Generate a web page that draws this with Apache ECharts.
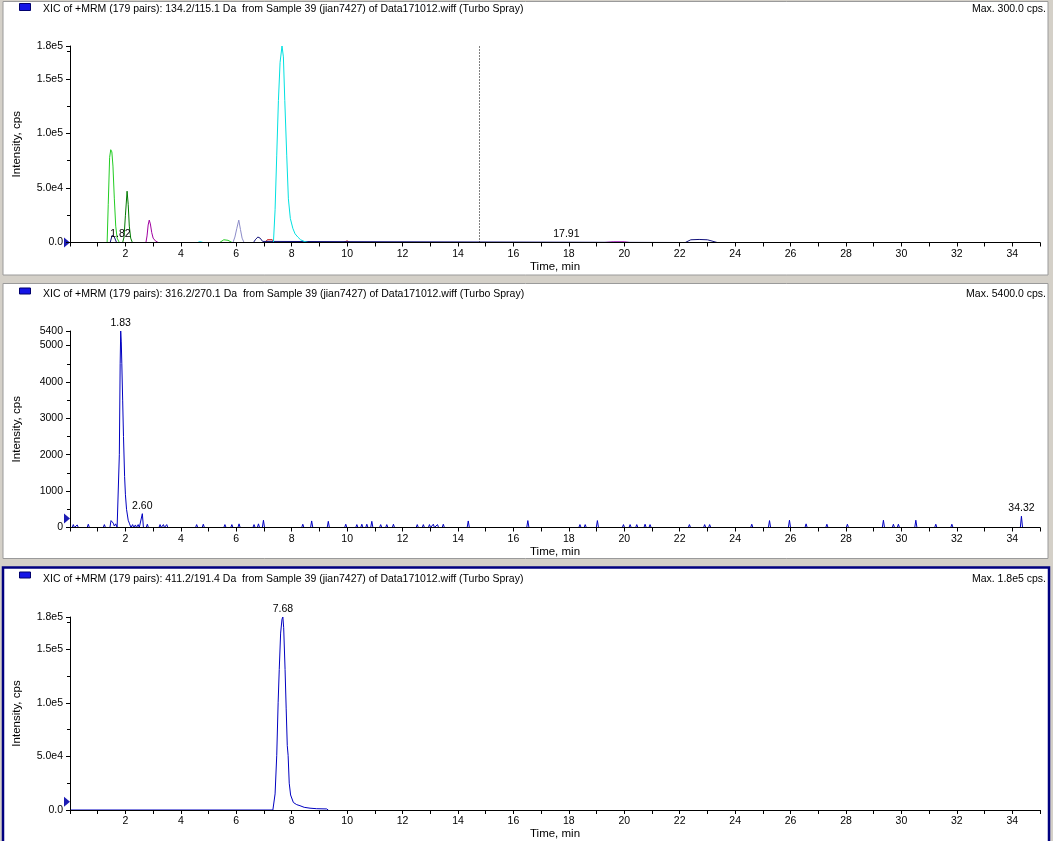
<!DOCTYPE html>
<html>
<head>
<meta charset="utf-8">
<script src="https://cdn.jsdelivr.net/npm/echarts@6/dist/echarts.min.js"></script>
<style>
html,body{margin:0;padding:0;background:#d4d0c8;}
#c{width:1053px;height:841px;}
</style>
</head>
<body>
<div id="c"></div>
<script>
// ---------- data ----------
const panelTitles = [
  'XIC of +MRM (179 pairs): 134.2/115.1 Da  from Sample 39 (jian7427) of Data171012.wiff (Turbo Spray)',
  'XIC of +MRM (179 pairs): 316.2/270.1 Da  from Sample 39 (jian7427) of Data171012.wiff (Turbo Spray)',
  'XIC of +MRM (179 pairs): 411.2/191.4 Da  from Sample 39 (jian7427) of Data171012.wiff (Turbo Spray)'
];
const maxTexts = ['Max. 300.0 cps.', 'Max. 5400.0 cps.', 'Max. 1.8e5 cps.'];
const timeRange = [0, 35];
const yMax = [180000, 5400, 180000];
const yStep = [50000, 1000, 50000];
const markerLevels = [0, 245, 7600];
const cursorTime = 14.75;

// panel 1 overlay traces (time, cps)
const p1Green = [[0,0],[1.34,0],[1.38,35000],[1.43,78000],[1.47,85000],[1.51,83000],[1.55,70000],[1.60,40000],[1.65,15000],[1.70,4000],[1.78,0],[5.40,0],[5.55,2500],[5.70,2000],[5.85,0],[35,0]];
const p1DarkGreen = [[0,0],[1.90,0],[1.95,5000],[2.00,25000],[2.06,47000],[2.10,35000],[2.14,15000],[2.19,4000],[2.25,0],[35,0]];
const p1Purple = [[0,0],[2.74,0],[2.78,6000],[2.82,16000],[2.86,20500],[2.90,17000],[2.95,9000],[3.00,4000],[3.08,1500],[3.18,0],[35,0]];
const p1Slate = [[0,0],[5.88,0],[5.95,5000],[6.02,13000],[6.09,20500],[6.15,12000],[6.21,4000],[6.28,0],[35,0]];
const p1Navy = [[0,0],[1.45,0],[1.52,6500],[1.60,5000],[1.68,0],[4.05,0],[4.10,1200],[4.16,0],[6.62,0],[6.70,3000],[6.78,5000],[6.86,4000],[6.95,1000],[7.00,0],[22.20,0],[22.40,2500],[22.70,2800],[23.00,2500],[23.35,0],[35,0]];
const p1Cyan = [[0,0],[4.6,0],[4.7,800],[4.8,0],[7.34,0],[7.40,30000],[7.46,80000],[7.52,130000],[7.58,165000],[7.65,180000],[7.70,170000],[7.75,130000],[7.82,80000],[7.88,40000],[7.95,22000],[8.04,13000],[8.12,8000],[8.22,5000],[8.32,2500],[8.45,1000],[8.60,0],[35,0]];
const p1Red = [[0,0],[7.05,0],[7.12,2500],[7.30,2500],[7.38,0],[9.85,0],[10.00,1500],[10.10,0],[35,0]];
const p1Magenta = [[0,0],[19.30,0],[19.60,800],[20.00,800],[20.20,0],[35,0]];
const p1Blue = [[0,0],[1.75,0],[1.82,300],[1.90,0],[17.85,0],[17.91,250],[17.97,0],[35,0]];
const p1PeakLabels = [[1.82, 300, '1.82'], [17.91, 250, '17.91']];

// panel 2 trace
const p2Trace = [
  [0,0],[0.08,0],[0.12,80],[0.16,0],[0.22,0],[0.26,70],[0.30,0],[0.62,0],[0.66,90],[0.70,0],
  [1.20,0],[1.24,80],[1.28,0],[1.44,0],[1.48,190],[1.52,190],[1.56,120],[1.60,40],[1.65,100],[1.70,0],
  [1.76,0],[1.78,2000],[1.81,4500],[1.83,5400],[1.85,5100],[1.87,4500],[1.90,3500],[1.93,2500],[1.97,1400],[2.00,900],[2.04,500],[2.10,200],[2.15,100],[2.20,0],
  [2.26,80],[2.30,0],[2.36,70],[2.40,0],[2.46,80],[2.50,0],[2.57,0],[2.61,380],[2.65,0],[2.75,0],[2.79,90],[2.83,0],
  [3.21,0],[3.25,80],[3.29,0],[3.33,0],[3.37,80],[3.41,0],[3.45,0],[3.49,80],[3.53,0],
  [4.53,0],[4.57,80],[4.61,0],[4.77,0],[4.81,90],[4.85,0],
  [5.55,0],[5.59,80],[5.63,0],[5.80,0],[5.84,80],[5.88,0],[6.06,0],[6.10,100],[6.14,0],
  [6.60,0],[6.64,80],[6.68,0],[6.76,0],[6.80,100],[6.84,0],[6.94,0],[6.98,200],[7.02,0],
  [8.36,0],[8.40,90],[8.44,0],[8.68,0],[8.72,180],[8.76,0],[9.28,0],[9.32,170],[9.36,0],[9.91,0],[9.95,90],[9.99,0],
  [10.31,0],[10.35,80],[10.39,0],[10.49,0],[10.53,90],[10.57,0],[10.67,0],[10.71,90],[10.75,0],[10.85,0],[10.89,170],[10.93,0],
  [11.17,0],[11.21,80],[11.25,0],[11.39,0],[11.43,80],[11.47,0],[11.63,0],[11.67,90],[11.71,0],
  [12.49,0],[12.53,80],[12.57,0],[12.71,0],[12.75,80],[12.79,0],[12.93,0],[12.97,80],[13.01,0],[13.07,0],[13.11,90],[13.15,0],[13.22,0],[13.26,80],[13.30,0],[13.43,0],[13.47,90],[13.51,0],
  [14.33,0],[14.37,180],[14.41,0],[16.48,0],[16.52,190],[16.56,0],
  [18.36,0],[18.40,80],[18.44,0],[18.55,0],[18.59,80],[18.63,0],[18.99,0],[19.03,190],[19.07,0],
  [19.93,0],[19.97,80],[20.01,0],[20.17,0],[20.21,80],[20.25,0],[20.41,0],[20.45,80],[20.49,0],[20.71,0],[20.75,90],[20.79,0],[20.89,0],[20.93,80],[20.97,0],
  [22.31,0],[22.35,80],[22.39,0],[22.86,0],[22.90,80],[22.94,0],[23.04,0],[23.08,80],[23.12,0],
  [24.56,0],[24.60,90],[24.64,0],[25.20,0],[25.24,190],[25.28,0],[25.92,0],[25.96,200],[26.00,0],
  [26.52,0],[26.56,100],[26.60,0],[27.27,0],[27.31,90],[27.35,0],[28.01,0],[28.05,90],[28.09,0],
  [29.31,0],[29.35,200],[29.39,0],[29.67,0],[29.71,90],[29.75,0],[29.85,0],[29.89,90],[29.93,0],
  [30.48,0],[30.52,200],[30.56,0],[31.20,0],[31.24,90],[31.28,0],[31.78,0],[31.82,90],[31.86,0],
  [34.29,0],[34.33,310],[34.37,0],[35,0]
];
const p2PeakLabels = [[1.83, 5400, '1.83'], [2.61, 380, '2.60'], [34.33, 310, '34.32']];

// panel 3 trace
const p3Trace = [[0,0],[7.32,0],[7.40,15000],[7.46,51000],[7.51,100000],[7.55,131000],[7.60,165000],[7.65,178000],[7.68,180000],[7.71,170000],[7.76,131000],[7.80,95000],[7.84,60000],[7.87,51000],[7.91,25000],[7.96,14000],[8.06,7000],[8.18,5000],[8.30,4000],[8.45,2500],[8.66,1700],[8.90,1200],[9.26,1000],[9.32,0]];
const p3PeakLabels = [[7.68, 180000, '7.68']];

// ---------- layout / styles ----------
const FONT = 'Liberation Sans, Arial, sans-serif';
const grids = [
  {left:70, top:46, width:970, height:196.5},
  {left:70, top:331, width:970, height:196.5},
  {left:70, top:617, width:970, height:195.5}
];
const titleTops = [4, 289, 574];

function yFmt(panel){
  return function(v){
    if (panel === 1) return String(v);
    if (v === 0) return '0.0';
    return v.toExponential(1).replace('e+', 'e');
  };
}

const xAxes = grids.map((g,i)=>({
  type:'value', gridIndex:i, min:timeRange[0], max:timeRange[1], interval:2, z:5,
  name:'Time, min', nameLocation:'middle', nameGap:18,
  nameTextStyle:{fontFamily:FONT, fontSize:11.5, color:'#000'},
  axisLine:{onZero:false, lineStyle:{color:'#000', width:1}},
  axisTick:{show:true, length:4, lineStyle:{color:'#000'}},
  minorTick:{show:true, splitNumber:2, length:4, lineStyle:{color:'#000'}},
  axisLabel:{showMinLabel:false, showMaxLabel:false, margin:6, fontFamily:FONT, fontSize:10.5, color:'#000'},
  splitLine:{show:false}
}));
const yAxes = grids.map((g,i)=>({
  type:'value', gridIndex:i, min:0, max:yMax[i], interval:yStep[i], z:5,
  name:'Intensity, cps', nameLocation:'middle', nameGap:47,
  nameTextStyle:{fontFamily:FONT, fontSize:11.5, color:'#000'},
  axisLine:{show:true, lineStyle:{color:'#000', width:1}},
  axisTick:{show:true, length:4, lineStyle:{color:'#000'}},
  minorTick:{show:true, splitNumber:2, length:3, lineStyle:{color:'#000'}},
  axisLabel:{margin:7, fontFamily:FONT, fontSize:10.5, color:'#000', formatter:yFmt(i)},
  splitLine:{show:false}
}));

const TRI = 'path://M0,0 L10,5 L0,10 Z';
function markerMP(panel){
  return {data:[{coord:[0, markerLevels[panel]], symbol:TRI, symbolSize:[6,10], symbolOffset:[-3,0],
    itemStyle:{color:'#1c1cb4'}, label:{show:false}}]};
}
function peakMP(list, extra){
  const d = list.map(p=>({coord:[p[0],p[1]], name:p[2], symbol:'circle', symbolSize:1,
    itemStyle:{color:'rgba(0,0,0,0)'},
    label:{show:true, position:'top', distance:2, formatter:p[2], color:'#000', fontFamily:FONT, fontSize:10.5}}));
  return {data: d.concat(extra||[])};
}
function line(data, color, gi, more){
  return Object.assign({type:'line', data:data, xAxisIndex:gi, yAxisIndex:gi, showSymbol:false, symbol:'none',
    lineStyle:{color:color, width:1}, itemStyle:{color:color}, animation:false, silent:true, clip:true}, more||{});
}

const series = [
  line(p1Red, '#c00000', 0),
  line(p1Magenta, '#d040d0', 0),
  line(p1Slate, '#8c8cc8', 0),
  line(p1Purple, '#a000a0', 0),
  line(p1DarkGreen, '#007a00', 0),
  line(p1Green, '#22cc22', 0),
  line(p1Navy, '#10107a', 0),
  line(p1Cyan, '#00e0e0', 0),
  line(p1Blue, '#0000ff', 0, {
    markPoint: peakMP(p1PeakLabels, markerMP(0).data),
    markLine:{silent:true, symbol:['none','none'], label:{show:false},
      lineStyle:{color:'#000', type:[1,2], width:1}, data:[{xAxis:cursorTime}]}
  }),
  line(p2Trace, '#0000c0', 1, {markPoint: peakMP(p2PeakLabels, markerMP(1).data)}),
  line(p3Trace, '#0000c0', 2, {markPoint: peakMP(p3PeakLabels, markerMP(2).data)})
];

const titles = [];
panelTitles.forEach((t,i)=>{
  titles.push({text:t, left:43, top:titleTops[i], padding:0,
    textStyle:{fontFamily:FONT, fontSize:10.5, fontWeight:'normal', color:'#000'}});
  titles.push({text:maxTexts[i], right:7, top:titleTops[i], padding:0,
    textStyle:{fontFamily:FONT, fontSize:10.5, fontWeight:'normal', color:'#000'}});
});

const graphics = [
  {type:'rect', z:-10, shape:{x:3, y:1.5, width:1045, height:273.5}, style:{fill:'#fff', stroke:'#9a9a9a', lineWidth:1}},
  {type:'rect', z:-10, shape:{x:3, y:283.5, width:1045, height:275}, style:{fill:'#fff', stroke:'#9a9a9a', lineWidth:1}},
  {type:'rect', z:-10, shape:{x:3, y:567.5, width:1046, height:280}, style:{fill:'#fff', stroke:'#000080', lineWidth:2.5}},
  {type:'rect', z:10, shape:{x:19.5, y:3.5, width:11, height:7}, style:{fill:'#1414e6', stroke:'#00006e', lineWidth:1}},
  {type:'rect', z:10, shape:{x:19.5, y:288, width:11, height:6}, style:{fill:'#1414e6', stroke:'#00006e', lineWidth:1}},
  {type:'rect', z:10, shape:{x:19.5, y:572, width:11, height:6}, style:{fill:'#1414e6', stroke:'#00006e', lineWidth:1}}
];

const chart = echarts.init(document.getElementById('c'), null, {renderer:'canvas'});
chart.setOption({
  animation:false,
  backgroundColor:'#d4d0c8',
  title:titles,
  grid:grids,
  xAxis:xAxes,
  yAxis:yAxes,
  series:series,
  graphic:graphics
});
</script>
</body>
</html>
